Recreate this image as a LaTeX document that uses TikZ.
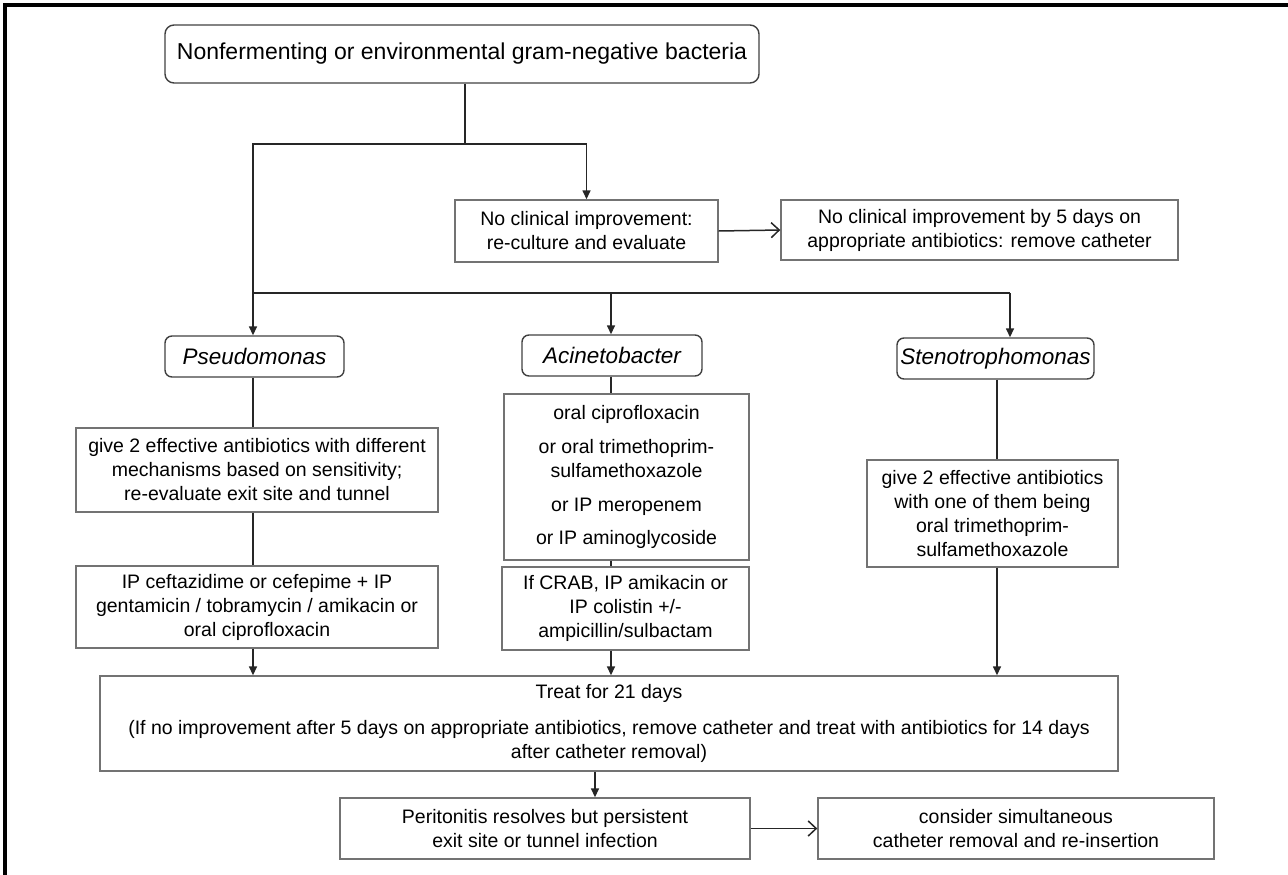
\documentclass[tikz,border=0pt]{standalone}
\usepackage{fontspec}
\setmainfont{Liberation Sans}
\usetikzlibrary{arrows.meta}
\tikzset{
  box/.style={draw=black!55, line width=1.4pt, inner sep=0pt, align=center,
    font=\fontsize{19.5}{24}\selectfont},
  rbox/.style={draw=black!75, line width=1.4pt, rounded corners=7pt, inner sep=0pt, align=center},
  conn/.style={draw=black!85, line width=1.5pt},
  arrD/.style={conn, -{Triangle[length=9pt,width=8pt]}},
  arrH/.style={conn, -{Straight Barb[length=8pt,width=15pt,line width=1.5pt]}},
}
\begin{document}
\begin{tikzpicture}[x=1pt,y=-1pt]
\useasboundingbox (0,0) rectangle (1288,875);
% frame (top and left edges)
\draw[line width=3.2pt,black] (5,875) -- (5,5) -- (1288,5);

% nodes
\node[rbox, rounded corners=9pt, minimum width=594pt, minimum height=58pt, font=\fontsize{23}{28}\selectfont] (top) at (462,54)
  {Nonfermenting or environmental gram-negative bacteria};
\node[box, minimum width=263pt, minimum height=62pt] (nci) at (586.5,231)
  {No clinical improvement:\\re-culture and evaluate};
\node[box, minimum width=397pt, minimum height=60pt] (nci5) at (979.5,230)
  {No clinical improvement by 5 days on\\appropriate antibiotics: remove catheter};

\node[rbox, minimum width=179pt, minimum height=41pt, font=\fontsize{22.5}{27}\selectfont\itshape] (pseudo) at (254.5,356.5) {Pseudomonas};
\node[rbox, minimum width=180pt, minimum height=41pt, font=\fontsize{22.5}{27}\selectfont\itshape] (acin) at (612,355.5) {Acinetobacter};
\node[rbox, minimum width=197pt, minimum height=41pt, font=\fontsize{22.5}{27}\selectfont\itshape] (steno) at (995.5,358.5) {Stenotrophomonas};

\node[box, minimum width=362pt, minimum height=84pt] (p2) at (257,470)
  {give 2 effective antibiotics with different\\mechanisms based on sensitivity;\\re-evaluate exit site and tunnel};
\node[box, minimum width=362pt, minimum height=82pt] (p3) at (257,607)
  {IP ceftazidime or cefepime + IP\\gentamicin / tobramycin / amikacin or\\oral ciprofloxacin};

\node[box, minimum width=245pt, minimum height=166pt] (a2) at (626.5,477)
  {oral ciprofloxacin\\[10pt]or oral trimethoprim-\\sulfamethoxazole\\[10pt]or IP meropenem\\[9pt]or IP aminoglycoside};
\node[box, minimum width=247pt, minimum height=83pt] (a3) at (625.5,608.5)
  {If CRAB, IP amikacin or\\IP colistin +/-\\ampicillin/sulbactam};

\node[box, minimum width=251pt, minimum height=107pt] (s2) at (992.5,513.5)
  {give 2 effective antibiotics\\with one of them being\\oral trimethoprim-\\sulfamethoxazole};

\node[box, minimum width=1018pt, minimum height=95pt] (treat) at (609,723.5)
  {Treat for 21 days\\[12pt](If no improvement after 5 days on appropriate antibiotics, remove catheter and treat with antibiotics for 14 days\\after catheter removal)};

\node[box, minimum width=410pt, minimum height=61pt] (perit) at (545,828.5)
  {Peritonitis resolves but persistent\\exit site or tunnel infection};
\node[box, minimum width=396pt, minimum height=61pt] (cons) at (1016,828.5)
  {consider simultaneous\\catheter removal and re-insertion};

% connectors
\coordinate (j1) at (465,144);
\coordinate (j2) at (253,293);
\coordinate (j3) at (1010,293);
\coordinate (ja) at (611,293);
\draw[conn] (top.south -| j1) -- (j1);
\draw[arrD] (j1) -| (nci.north);
\draw[conn] (j1) -| (j2);
\draw[conn] (j2) -- (j3);
\draw[arrD] (j2) -- (j2 |- pseudo.north);
\draw[arrD] (ja) -- (ja |- acin.north);
\draw[arrD] (j3) -- (j3 |- steno.north);
\draw[arrH] (nci.east) -- (nci5.west);

\coordinate (cp) at (253,0);
\coordinate (ca) at (611,0);
\coordinate (cs) at (997,0);
\coordinate (ct) at (595,0);
\draw[conn] (cp |- pseudo.south) -- (cp |- p2.north);
\draw[conn] (cp |- p2.south) -- (cp |- p3.north);
\draw[arrD] (cp |- p3.south) -- (cp |- treat.north);
\draw[conn] (ca |- acin.south) -- (ca |- a2.north);
\draw[conn] (ca |- a2.south) -- (ca |- a3.north);
\draw[arrD] (ca |- a3.south) -- (ca |- treat.north);
\draw[conn] (cs |- steno.south) -- (cs |- s2.north);
\draw[arrD] (cs |- s2.south) -- (cs |- treat.north);
\draw[arrD] (ct |- treat.south) -- (ct |- perit.north);
\draw[arrH] (perit.east) -- (cons.west);
\end{tikzpicture}
\end{document}
